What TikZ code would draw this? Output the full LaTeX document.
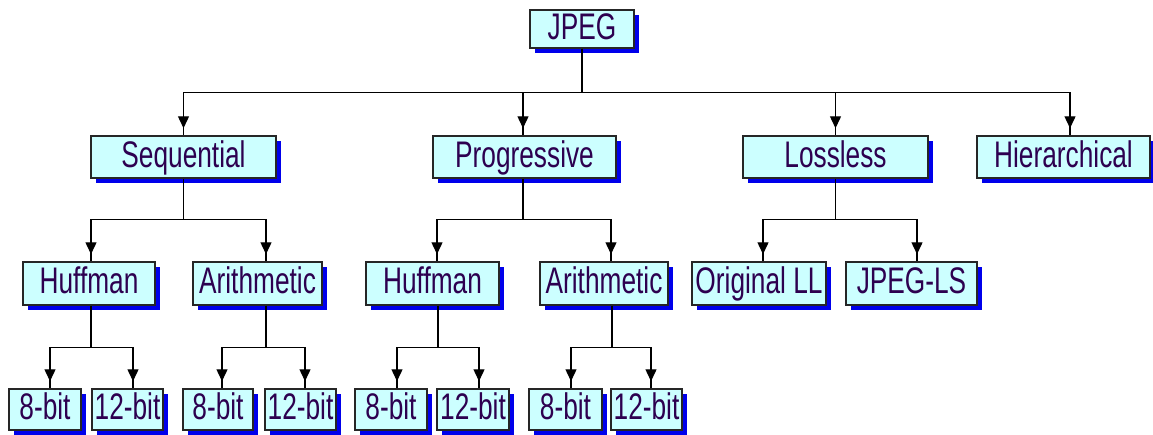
\documentclass[tikz,border=0pt]{standalone}
\usepackage{fontspec}
\setmainfont{Liberation Sans}[FakeStretch=0.71]
\usepackage{tikz}
\usetikzlibrary{arrows.meta,shadows}

\definecolor{boxfill}{RGB}{204,255,255}
\definecolor{shadowblue}{RGB}{0,0,235}
\definecolor{labeltext}{RGB}{45,0,80}

\tikzset{
  box/.style={draw=black!85, line width=1.5pt, fill=boxfill, text=labeltext,
    inner sep=0pt, minimum height=42pt, text height=28pt, text depth=8pt,
    font=\fontsize{37}{40}\selectfont,
    drop shadow={shadow xshift=5pt, shadow yshift=-5pt, fill=shadowblue, opacity=1}},
  link/.style={line width=1.4pt,
    -{Triangle[length=12pt,width=11pt] Rectangle[length=7pt,width=1.4pt,line width=0pt]}}
}

\begin{document}
\begin{tikzpicture}[x=1pt, y=-1pt]
        \useasboundingbox (0,0) rectangle (1153,434);
        
        % top
        \node[box, minimum width=104pt, minimum height=38pt, text height=26pt, text depth=6pt] (jpeg) at (582,29) {JPEG};
        
        % modes
        \node[box, minimum width=185pt] (seq) at (183.5,157) {Sequential};
        \node[box, minimum width=183pt] (prog) at (524.5,157) {Progressive};
        \node[box, minimum width=185pt] (lossless) at (835.5,157) {Lossless};
        \node[box, minimum width=173pt] (hier) at (1063.5,157) {Hierarchical};
        
        % coders
        \node[box, minimum width=132pt, minimum height=43pt] (huf1) at (89,283.5) {Huffman};
        \node[box, minimum width=129pt, minimum height=43pt] (ari1) at (257.5,283.5) {Arithmetic};
        \node[box, minimum width=133pt, minimum height=43pt] (huf2) at (432.5,283.5) {Huffman};
        \node[box, minimum width=128pt, minimum height=43pt] (ari2) at (604,283.5) {Arithmetic};
        \node[box, minimum width=134pt, minimum height=43pt] (orig) at (759,283.5) {Original LL};
        \node[box, minimum width=131pt, minimum height=43pt] (jls) at (911.5,283.5) {JPEG-LS};
        
        % precisions
        \node[box, minimum width=72pt, minimum height=41pt] (a8) at (45,409.5) {8-bit};
        \node[box, minimum width=71pt, minimum height=41pt] (a12) at (127.5,409.5) {12-bit};
        \node[box, minimum width=70pt, minimum height=41pt] (b8) at (218,409.5) {8-bit};
        \node[box, minimum width=71pt, minimum height=41pt] (b12) at (300.5,409.5) {12-bit};
        \node[box, minimum width=72pt, minimum height=41pt] (c8) at (391,409.5) {8-bit};
        \node[box, minimum width=72pt, minimum height=41pt] (c12) at (473,409.5) {12-bit};
        \node[box, minimum width=73pt, minimum height=41pt] (d8) at (565.5,409.5) {8-bit};
        \node[box, minimum width=71pt, minimum height=41pt] (d12) at (646.5,409.5) {12-bit};
        
        % links
        \draw[link] (jpeg.south) -- ++(0,44) -| (seq.north);
        \draw[link] (jpeg.south) -- ++(0,44) -| ([xshift=-1.5pt]prog.north);
        \draw[link] (jpeg.south) -- ++(0,44) -| (lossless.north);
        \draw[link] (jpeg.south) -- ++(0,44) -| ([xshift=6.5pt]hier.north);
        
        \draw[link] (seq.south) -- ++(0,41) -| ([xshift=2pt]huf1.north);
        \draw[link] (seq.south) -- ++(0,41) -| ([xshift=8.5pt]ari1.north);
        \draw[link] ([xshift=-1.5pt]prog.south) -- ++(0,41) -| ([xshift=4.5pt]huf2.north);
        \draw[link] ([xshift=-1.5pt]prog.south) -- ++(0,41) -| ([xshift=7pt]ari2.north);
        \draw[link] (lossless.south) -- ++(0,41) -| ([xshift=4pt]orig.north);
        \draw[link] (lossless.south) -- ++(0,41) -| ([xshift=5.5pt]jls.north);
        
        \draw[link] ([xshift=2pt]huf1.south) -- ++(0,42) -| ([xshift=5pt]a8.north);
        \draw[link] ([xshift=2pt]huf1.south) -- ++(0,42) -| ([xshift=5.5pt]a12.north);
        \draw[link] ([xshift=8.5pt]ari1.south) -- ++(0,42) -| ([xshift=4pt]b8.north);
        \draw[link] ([xshift=8.5pt]ari1.south) -- ++(0,42) -| ([xshift=4.5pt]b12.north);
        \draw[link] ([xshift=5.5pt]huf2.south) -- ++(0,42) -| ([xshift=6pt]c8.north);
        \draw[link] ([xshift=5.5pt]huf2.south) -- ++(0,42) -| ([xshift=6pt]c12.north);
        \draw[link] ([xshift=8pt]ari2.south) -- ++(0,42) -| ([xshift=5.5pt]d8.north);
        \draw[link] ([xshift=8pt]ari2.south) -- ++(0,42) -| ([xshift=4.5pt]d12.north);
        
\end{tikzpicture}
\end{document}
